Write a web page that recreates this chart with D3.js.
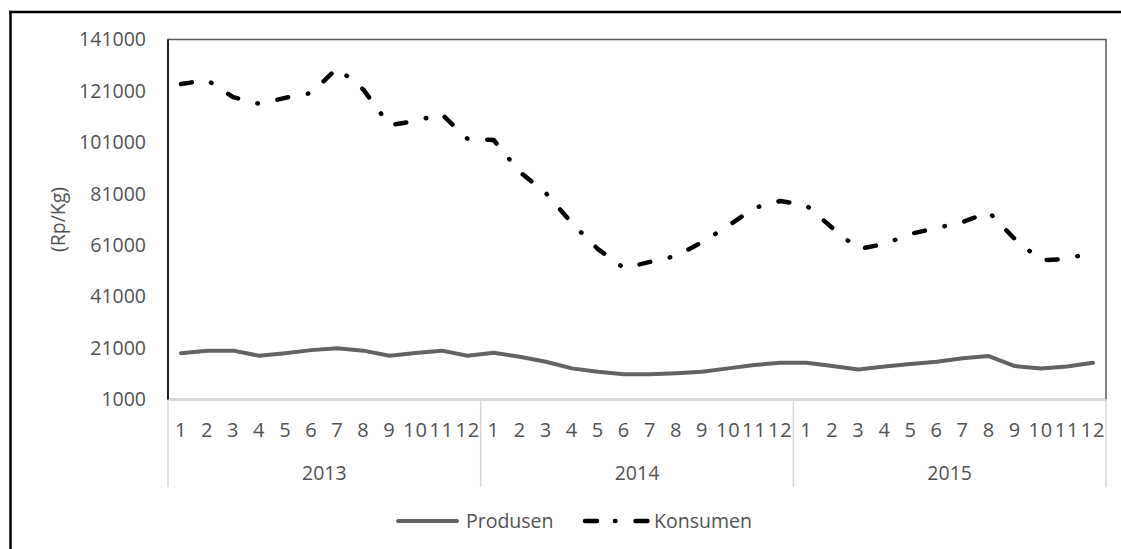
<!DOCTYPE html>
<html><head><meta charset="utf-8">
<script src="https://cdnjs.cloudflare.com/ajax/libs/d3/7.8.5/d3.min.js"></script>
<style>
html,body{margin:0;padding:0;background:#fff;overflow:hidden;}
svg{display:block;overflow:hidden;}
text{font-family:"Open Sans","Noto Sans",sans-serif;fill:#525252;}
</style></head>
<body><svg id="c" width="1121" height="549"></svg>
<script>
const months = ["1","2","3","4","5","6","7","8","9","10","11","12"];
const years = ["2013","2014","2015"];
const yTicks = [1000,21000,41000,61000,81000,101000,121000,141000];
const produsen = [19000,20000,20000,18000,19000,20200,20900,20000,18000,19100,20000,18000,
                  19200,17600,15700,13100,11800,10800,10800,11200,11800,13100,14400,15300,
                  15300,14000,12700,13800,14800,15700,17000,17900,14000,13100,13800,15300];
const konsumen = [123700,125200,118600,116000,118300,120200,129900,121500,107700,109300,112000,102300,
                  101900,89500,81300,69600,59500,52100,54500,56800,62200,68500,75500,78200,
                  76500,67700,59500,61500,65400,67700,70000,73900,63400,55200,55600,58400];
const seriesNames = ["Produsen","Konsumen"];

const svg = d3.select("#c");
const L = 168, R = 1106, T = 39.5, B = 399.5;
const idx = d3.range(years.length * months.length);
const x = d3.scaleBand().domain(idx).range([L, R]).paddingInner(0).paddingOuter(0);
const cx = i => x(i) + x.bandwidth() / 2;
const y = d3.scaleLinear().domain([1000, 141000]).range([B, T]);

// outer frame (top and left edges; right and bottom lie outside the picture)
svg.append("line").attr("x1", 9.25).attr("x2", 1121).attr("y1", 12).attr("y2", 12)
  .attr("stroke", "#000").attr("stroke-width", 2.5);
svg.append("line").attr("x1", 10.5).attr("x2", 10.5).attr("y1", 10.75).attr("y2", 549)
  .attr("stroke", "#000").attr("stroke-width", 2.5);

// plot area border
svg.append("rect").attr("x", L).attr("y", T).attr("width", R - L).attr("height", B - T)
  .attr("fill", "none").attr("stroke", "#595959").attr("stroke-width", 1.5);

// category axis line and separators
svg.append("line").attr("x1", L).attr("x2", R).attr("y1", B).attr("y2", B)
  .attr("stroke", "#d9d9d9").attr("stroke-width", 1.5);
const sepX = d3.range(years.length + 1).map(k => k === years.length ? R : x(k * months.length));
svg.selectAll("line.sep").data(sepX).join("line").attr("class", "sep")
  .attr("x1", d => d).attr("x2", d => d).attr("y1", B).attr("y2", 487)
  .attr("stroke", "#d9d9d9").attr("stroke-width", 1.5);

// value axis line
svg.append("line").attr("x1", L).attr("x2", L).attr("y1", T).attr("y2", B)
  .attr("stroke", "#000").attr("stroke-width", 1.5);

// y axis labels
const yAxis = d3.axisLeft(y).tickValues(yTicks).tickSize(0).tickPadding(22).tickFormat(d3.format("d"));
const gy = svg.append("g").attr("transform", `translate(${L},0)`).call(yAxis);
gy.select(".domain").remove();
gy.selectAll("text").style("font-size", "19.5px").style("font-family", '"Open Sans","Noto Sans",sans-serif')
  .attr("fill", "#525252");

// month labels
svg.selectAll("text.m").data(idx).join("text").attr("class", "m")
  .attr("x", d => cx(d)).attr("y", 430).attr("dy", "0.35em")
  .attr("text-anchor", "middle").style("font-size", "20px").style("letter-spacing", "0.8px")
  .text(d => months[d % months.length]);

// year labels
svg.selectAll("text.yr").data(years).join("text").attr("class", "yr")
  .attr("x", (d, k) => (x(k * months.length) + (k === years.length - 1 ? R : x((k + 1) * months.length))) / 2)
  .attr("y", 473).attr("dy", "0.35em").attr("text-anchor", "middle").style("font-size", "19.5px")
  .text(d => d);

// y title
svg.append("text").attr("transform", `translate(58,${(T + B) / 2}) rotate(-90)`)
  .attr("text-anchor", "middle").attr("dy", "0.35em").style("font-size", "19.5px").text("(Rp/Kg)");

const line = d3.line().x((d, i) => cx(i)).y(d => y(d));

svg.append("path").datum(produsen).attr("d", line).attr("fill", "none")
  .attr("stroke", "#636363").attr("stroke-width", 4).attr("stroke-linejoin", "round").attr("stroke-linecap", "round");

const dash = "11,20,0.5,20";
svg.append("path").datum(konsumen).attr("d", line).attr("fill", "none")
  .attr("stroke", "#000").attr("stroke-width", 4.5).attr("stroke-linejoin", "round")
  .attr("stroke-linecap", "round").attr("stroke-dasharray", dash);

// legend
const lg = svg.append("g");
lg.append("line").attr("x1", 398).attr("x2", 457).attr("y1", 521).attr("y2", 521)
  .attr("stroke", "#636363").attr("stroke-width", 4).attr("stroke-linecap", "round");
lg.append("text").attr("x", 466).attr("y", 521).attr("dy", "0.35em").style("font-size", "19.5px").text(seriesNames[0]);
lg.append("line").attr("x1", 585).attr("x2", 650).attr("y1", 521).attr("y2", 521)
  .attr("stroke", "#000").attr("stroke-width", 4.5).attr("stroke-linecap", "round")
  .attr("stroke-dasharray", "12,18,0.5,20");
lg.append("text").attr("x", 654).attr("y", 521).attr("dy", "0.35em").style("font-size", "19.5px").text(seriesNames[1]);
</script></body></html>
